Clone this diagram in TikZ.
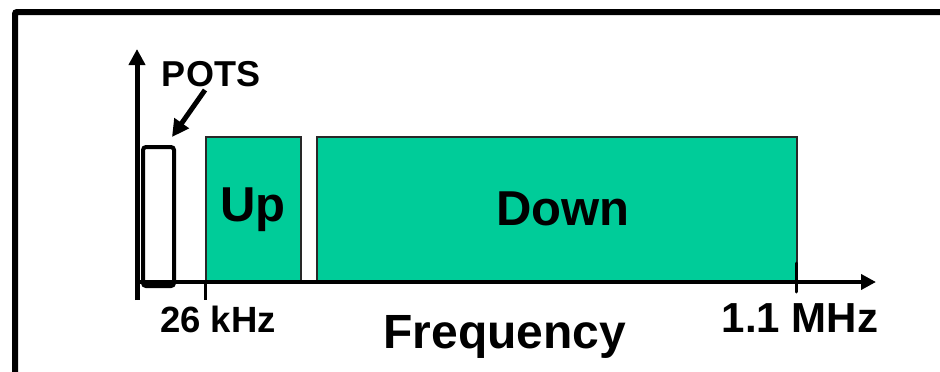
\documentclass[tikz,border=0pt]{standalone}
\usepackage{fontspec}
\setmainfont{Liberation Sans}
\usetikzlibrary{arrows.meta}
\definecolor{band}{RGB}{0,204,153}
\definecolor{bandedge}{RGB}{40,40,40}
\tikzset{
  bandbox/.style={fill=band,draw=bandedge,line width=1.5pt},
  lbl/.style={font=\bfseries,inner sep=0pt},
}
\begin{document}
\begin{tikzpicture}[x=1pt,y=-1pt]
\useasboundingbox (0,0) rectangle (940,372);
\clip (0,0) rectangle (940,372);
\fill[white] (0,0) rectangle (940,372);
% frame
\draw[line width=6pt,rounded corners=2pt] (15,380) -- (15,12) -- (960,12);
% bands
\node[bandbox,minimum width=95pt,minimum height=144pt,anchor=north west,inner sep=0pt] (up) at (205,136) {};
\node[bandbox,minimum width=480pt,minimum height=144pt,anchor=north west,inner sep=0pt] (down) at (316,136) {};
\node[lbl,font=\bfseries\fontsize{49}{49}\selectfont] at ([yshift=-1pt]up.center) {Up};
\node[lbl,font=\bfseries\fontsize{49}{49}\selectfont] at ([xshift=6pt]down.center) {Down};
% POTS box
\node[draw,line width=4pt,rounded corners=3pt,minimum width=31pt,minimum height=139pt,anchor=north west,inner sep=0pt] (pots) at (141,145) {};
% axes
\coordinate (ytip) at (137,49);
\coordinate (xtip) at (876,282);
\coordinate (ybot) at (137,300);
\coordinate (xstart) at (135,282);
\draw[line width=5pt,-{Triangle[length=16pt,width=16pt]}] (ybot) -- (ytip);
\draw[line width=4pt,-{Triangle[length=15pt,width=15pt]}] (xstart) -- (xtip);
% ticks
\coordinate (t1a) at (205,280);
\coordinate (t1b) at (205,300);
\coordinate (t2a) at (796,263);
\coordinate (t2b) at (796,292);
\draw[line width=3pt] (t1a) -- (t1b);
\draw[line width=3pt,line cap=round] (t2a) -- (t2b);
% labels
\node[lbl,font=\bfseries\fontsize{36}{36}\selectfont] (potslbl) at (211,74) {POTS};
\coordinate (pa) at (205,90);
\coordinate (pb) at (172,137);
\draw[line width=5pt,-{Triangle[length=17pt,width=17pt]}] (pa) -- (pb);
\node[lbl,font=\bfseries\fontsize{36.5}{36.5}\selectfont] (k26) at (218,319) {26 kHz};
\node[lbl,font=\bfseries\fontsize{42}{42}\selectfont] (m11) at (800,318) {1.1 MHz};
\node[lbl,font=\bfseries\fontsize{48}{48}\selectfont] (freq) at (505,337) {Frequency};
\end{tikzpicture}
\end{document}
